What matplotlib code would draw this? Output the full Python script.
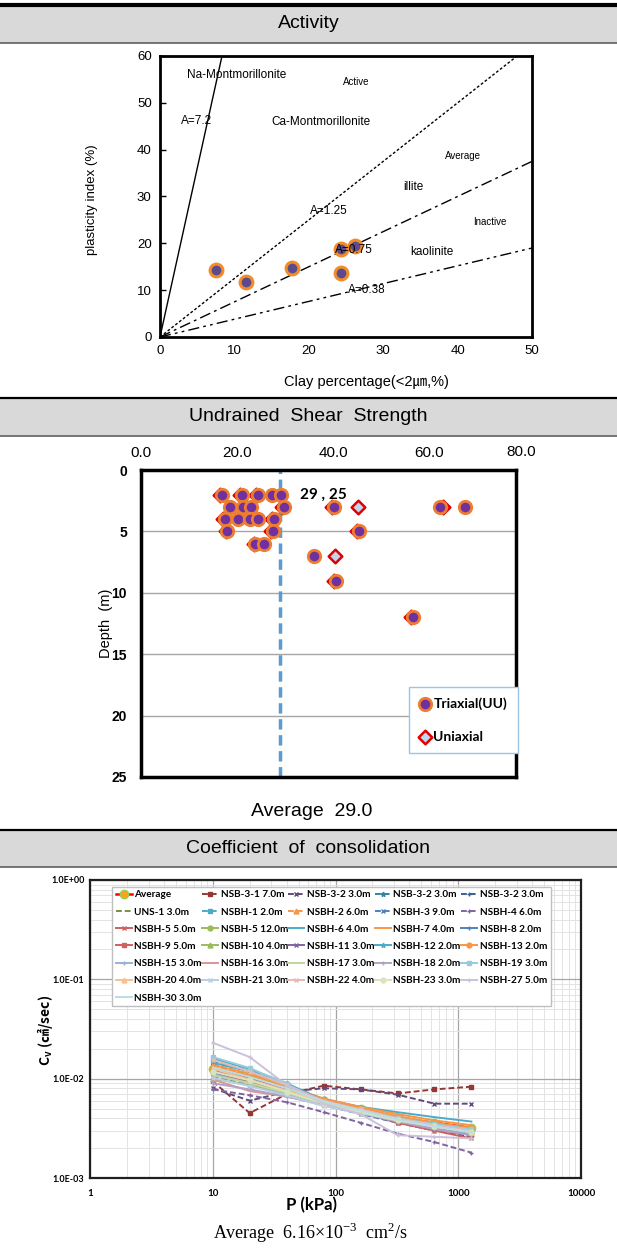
import numpy as np
import matplotlib.pyplot as plt
from matplotlib.lines import Line2D
from matplotlib.patches import Rectangle
from matplotlib.ticker import FuncFormatter, NullFormatter
from matplotlib import font_manager

W, H = 617, 1251

# ---- activity chart data ----
clay_pct = [7.5, 11.6, 17.8, 24.3, 26.2, 24.3]
plast_idx = [14.3, 11.8, 14.7, 18.7, 19.4, 13.6]
act_values = [7.2, 1.25, 0.75, 0.38]
act_labels = ['A=7.2', 'A=1.25', 'A=0.75', 'A=0.38']

# ---- undrained shear strength data ----
tri_su = [16.9, 21.0, 24.4, 27.2, 29.1,
          18.5, 21.3, 22.8, 29.8, 40.1, 62.1, 67.3,
          17.5, 20.1, 22.6, 24.4, 27.6,
          17.9, 27.4, 45.4,
          23.8, 25.6,
          36.0, 40.6, 56.6]
tri_depth = [2, 2, 2, 2, 2,
             3, 3, 3, 3, 3, 3, 3,
             4, 4, 4, 4, 4,
             5, 5, 5,
             6, 6,
             7, 9, 12]
uni_su = [16.5, 20.6, 24.0, 29.4, 39.7, 45.1, 62.8, 17.1, 27.2,
          17.6, 27.0, 45.0, 23.4, 40.4, 40.2, 56.2]
uni_depth = [2, 2, 2, 3, 3, 3, 3, 4, 4, 5, 5, 5, 6, 7, 9, 12]
su_average = 29.0
su_count = 25

# ---- coefficient of consolidation data ----
pressure_kpa = [10, 20, 40, 80, 160, 320, 640, 1280]
cv_labels = ['Average', 'NSB-3-1 7.0m', 'NSB-3-2 3.0m', 'NSB-3-2 3.0m', 'NSB-3-2 3.0m',
             'UNS-1 3.0m', 'NSBH-1 2.0m', 'NSBH-2 6.0m', 'NSBH-3 9.0m', 'NSBH-4 6.0m',
             'NSBH-5 5.0m', 'NSBH-5 12.0m', 'NSBH-6 4.0m', 'NSBH-7 4.0m', 'NSBH-8 2.0m',
             'NSBH-9 5.0m', 'NSBH-10 4.0m', 'NSBH-11 3.0m', 'NSBH-12 2.0m', 'NSBH-13 2.0m',
             'NSBH-15 3.0m', 'NSBH-16 3.0m', 'NSBH-17 3.0m', 'NSBH-18 2.0m', 'NSBH-19 3.0m',
             'NSBH-20 4.0m', 'NSBH-21 3.0m', 'NSBH-22 4.0m', 'NSBH-23 3.0m', 'NSBH-27 5.0m',
             'NSBH-30 3.0m']
cv_values = [
    [0.0126, 0.0102, 0.0078, 0.0058, 0.0049, 0.0040, 0.0036, 0.0032],
    [0.0094, 0.0045, 0.0070, 0.0085, 0.0078, 0.0071, 0.0078, 0.0083],
    [0.0080, 0.0060, 0.0074, 0.0080, 0.0078, 0.0069, 0.0056, 0.0056],
    [0.0140, 0.0110, 0.0085, 0.0060, 0.0047, 0.0038, 0.0032, 0.0028],
    [0.0118, 0.0095, 0.0072, 0.0055, 0.0045, 0.0036, 0.0030, 0.0026],
    [0.0110, 0.0092, 0.0075, 0.0058, 0.0048, 0.0040, 0.0034, 0.0029],
    [0.0150, 0.0120, 0.0088, 0.0062, 0.0050, 0.0041, 0.0035, 0.0031],
    [0.0135, 0.0108, 0.0080, 0.0060, 0.0048, 0.0039, 0.0033, 0.0028],
    [0.0105, 0.0088, 0.0070, 0.0054, 0.0044, 0.0036, 0.0031, 0.0027],
    [0.0078, 0.0068, 0.0058, 0.0046, 0.0036, 0.0028, 0.0023, 0.0018],
    [0.0125, 0.0100, 0.0076, 0.0057, 0.0046, 0.0036, 0.0030, 0.0025],
    [0.0128, 0.0108, 0.0082, 0.0063, 0.0051, 0.0041, 0.0034, 0.0029],
    [0.0145, 0.0118, 0.0085, 0.0062, 0.0052, 0.0046, 0.0041, 0.0037],
    [0.0138, 0.0112, 0.0084, 0.0063, 0.0052, 0.0044, 0.0038, 0.0034],
    [0.0120, 0.0098, 0.0074, 0.0056, 0.0046, 0.0038, 0.0033, 0.0030],
    [0.0115, 0.0094, 0.0072, 0.0055, 0.0045, 0.0037, 0.0031, 0.0027],
    [0.0100, 0.0086, 0.0070, 0.0056, 0.0047, 0.0039, 0.0034, 0.0030],
    [0.0122, 0.0100, 0.0078, 0.0058, 0.0047, 0.0038, 0.0032, 0.0028],
    [0.0160, 0.0125, 0.0090, 0.0060, 0.0048, 0.0040, 0.0035, 0.0031],
    [0.0132, 0.0106, 0.0080, 0.0061, 0.0050, 0.0042, 0.0036, 0.0032],
    [0.0112, 0.0090, 0.0071, 0.0055, 0.0045, 0.0037, 0.0032, 0.0028],
    [0.0098, 0.0075, 0.0066, 0.0056, 0.0047, 0.0039, 0.0034, 0.0030],
    [0.0108, 0.0090, 0.0072, 0.0055, 0.0046, 0.0038, 0.0033, 0.0029],
    [0.0090, 0.0078, 0.0066, 0.0054, 0.0045, 0.0037, 0.0031, 0.0027],
    [0.0165, 0.0128, 0.0088, 0.0058, 0.0049, 0.0040, 0.0035, 0.0031],
    [0.0126, 0.0098, 0.0076, 0.0058, 0.0048, 0.0039, 0.0033, 0.0029],
    [0.0102, 0.0084, 0.0068, 0.0053, 0.0045, 0.0038, 0.0033, 0.0029],
    [0.0155, 0.0118, 0.0086, 0.0060, 0.0049, 0.0040, 0.0034, 0.0030],
    [0.0118, 0.0096, 0.0074, 0.0056, 0.0046, 0.0038, 0.0033, 0.0029],
    [0.0230, 0.0165, 0.0086, 0.0056, 0.0044, 0.0027, 0.0026, 0.0025],
    [0.0130, 0.0104, 0.0080, 0.0059, 0.0048, 0.0039, 0.0033, 0.0029],
]
cv_mean = 6.16

# colour, dashed?, marker for each Cv series
cv_styles = [
    ('#ff0000', False, 'o'), ('#953735', True, 's'), ('#604a7b', True, 'x'),
    ('#31859c', True, '*'), ('#376092', True, '+'), ('#77933c', True, None),
    ('#4bacc6', True, 's'), ('#f79646', True, '^'), ('#4f81bd', True, 'x'),
    ('#8064a2', True, '+'), ('#d0605e', False, 'x'), ('#9bbb59', False, 'o'),
    ('#4bacc6', False, None), ('#f79646', False, None), ('#4f81bd', False, '+'),
    ('#d0605e', False, 's'), ('#9bbb59', False, '^'), ('#8064a2', False, 'x'),
    ('#4bacc6', False, '*'), ('#f79646', False, 'o'), ('#95b3d7', False, '+'),
    ('#d99694', False, None), ('#c3d69b', False, None), ('#b3a2c7', False, '+'),
    ('#93cddd', False, 's'), ('#fac090', False, '^'), ('#b9cde5', False, 'x'),
    ('#e6b9b8', False, 'x'), ('#d7e4bd', False, 'o'), ('#ccc1da', False, '+'),
    ('#b7dee8', False, None),
]

installed = {f.name for f in font_manager.fontManager.ttflist}
narrow = 'Liberation Sans Narrow' if 'Liberation Sans Narrow' in installed else 'Lato'

fig = plt.figure(figsize=(W / 100, H / 100), dpi=100)


def px_axes(left, top, right, bottom):
    return fig.add_axes([left / W, 1 - bottom / H, (right - left) / W, (bottom - top) / H])


def band(top, bottom, title, top_lw=1.6):
    fig.add_artist(Rectangle((0, 1 - bottom / H), 1, (bottom - top) / H,
                             transform=fig.transFigure, fc='#d9d9d9', ec='none', zorder=0))
    fig.add_artist(Line2D([0, 1], [1 - top / H] * 2, color='black', lw=top_lw))
    fig.add_artist(Line2D([0, 1], [1 - bottom / H] * 2, color='#606060', lw=1.2))
    fig.text(0.5, 1 - (top + bottom) / 2 / H, title, ha='center', va='center',
             fontsize=14, family='Liberation Sans')


band(5, 43, 'Activity', top_lw=3)
band(398, 436, 'Undrained  Shear  Strength')
band(830, 867, 'Coefficient  of  consolidation')

# ================= Activity =================
ax1 = px_axes(160, 56, 532, 337)
ax1.set_xlim(0, 50)
ax1.set_ylim(0, 60)
xs = np.array([0, 50.0])
dash_styles = ['-', (0, (2, 1.5)), (0, (8, 3, 2, 3)), (0, (8, 3, 2, 3, 2, 3))]
for a, ls in zip(act_values, dash_styles):
    ax1.plot(xs, a * xs, color='black', lw=1.0, ls=ls, zorder=2)
ax1.scatter(clay_pct, plast_idx, s=85, c='#5b4a8c', edgecolors='#f28c28',
            linewidths=2.2, zorder=4)

txt = dict(family='Liberation Sans', color='black', ha='left', va='center', zorder=5)
ax1.text(3.6, 56, 'Na-Montmorillonite', fontsize=8.5, **txt)
ax1.text(24.6, 54.4, 'Active', fontsize=7, **txt)
ax1.text(2.8, 46.2, act_labels[0], fontsize=8.5, **txt)
ax1.text(15.0, 46.0, 'Ca-Montmorillonite', fontsize=8.5, **txt)
ax1.text(20.1, 27.0, act_labels[1], fontsize=8.5, **txt)
ax1.text(38.3, 38.7, 'Average', fontsize=7, **txt)
ax1.text(32.7, 32.0, 'illite', fontsize=8.5, **txt)
ax1.text(42.1, 24.6, 'Inactive', fontsize=7, **txt)
ax1.text(23.5, 18.6, act_labels[2], fontsize=8.5, **txt)
ax1.text(33.7, 18.2, 'kaolinite', fontsize=8.5, **txt)
ax1.text(25.3, 10.0, act_labels[3], fontsize=8.5, **txt)

ax1.set_xticks(range(0, 51, 10))
ax1.set_yticks(range(0, 61, 10))
ax1.tick_params(axis='x', length=0, pad=6, labelsize=9.5)
ax1.tick_params(axis='y', direction='in', length=4, width=1, pad=6, labelsize=9.5)
for lab in ax1.get_xticklabels() + ax1.get_yticklabels():
    lab.set_family('Liberation Sans')
for sp in ax1.spines.values():
    sp.set_linewidth(2)
fig.text(366 / W, 1 - 382 / H, 'Clay percentage(<2㎛,%)', ha='center', va='center',
         fontsize=10.5, family=['Liberation Sans', 'Noto Sans CJK KR'])
fig.text(92 / W, 1 - 200 / H, 'plasticity index (%)', ha='center', va='center',
         rotation=90, fontsize=9.5, family='Liberation Sans')

# ================= Undrained shear strength =================
ax2 = px_axes(141, 470, 516, 777)
ax2.set_xlim(0, 78)
ax2.set_ylim(25, 0)
ax2.set_yticks(range(0, 26, 5))
ax2.yaxis.grid(True, color='#a6a6a6', lw=1)
ax2.set_axisbelow(True)
ax2.xaxis.tick_top()
ax2.set_xticks([0, 20, 40, 60])
ax2.xaxis.set_major_formatter(FuncFormatter(lambda v, p: f'{v:.1f}'))
ax2.tick_params(axis='x', length=0, pad=7, labelsize=11)
ax2.tick_params(axis='y', length=0, pad=10, labelsize=10)
for lab in ax2.get_xticklabels():
    lab.set_family('Liberation Sans')
for lab in ax2.get_yticklabels():
    lab.set_family('Liberation Sans')
    lab.set_fontweight('bold')
# last top label sits just past the frame edge
fig.text(521 / W, 1 - 452 / H, f'{80:.1f}', ha='center', va='center',
         fontsize=11, family='Liberation Sans')
for sp in ax2.spines.values():
    sp.set_linewidth(2.5)
    sp.set_color('black')

ax2.axvline(su_average, color='#5b9bd5', lw=2.5, ls=(0, (3, 1.6)), zorder=2)
ax2.scatter(uni_su, uni_depth, marker='D', s=48, c='#bdd7ee', edgecolors='#e00000',
            linewidths=1.8, zorder=3, label='Uniaxial')
ax2.scatter(tri_su, tri_depth, marker='o', s=80, c='#7030a0', edgecolors='#ed7d31',
            linewidths=2, zorder=4, label='Triaxial(UU)')
ax2.text(33.0, 2.0, f'{su_average:.0f} , {su_count}', fontsize=11, fontweight='bold',
         family='Lato', va='center', ha='left')
ax2.set_ylabel('Depth  (m)', fontsize=10.5, family='Liberation Sans')
ax2.yaxis.set_label_coords(-0.075, 0.5)

h, l = ax2.get_legend_handles_labels()
leg2 = ax2.legend(h[::-1], l[::-1], loc='upper left', bbox_to_anchor=(0.715, 0.293),
                  borderaxespad=0, frameon=True, fancybox=False, handletextpad=0.2,
                  handlelength=0.8, labelspacing=1.5, borderpad=0.75, framealpha=1,
                  prop=dict(family='Lato', weight='bold', size=10))
leg2.get_frame().set_edgecolor('#9dc3e6')
leg2.get_frame().set_linewidth(1)

fig.text(0.505, 1 - 811 / H, f'Average  {su_average:.1f}', ha='center', va='center',
         fontsize=14, family='Liberation Sans')

# ================= Coefficient of consolidation =================
ax3 = px_axes(90, 880, 581, 1178)
ax3.set_xscale('log')
ax3.set_yscale('log')
ax3.set_xlim(1, 10000)
ax3.set_ylim(1e-3, 1)
ax3.grid(True, which='major', color='#a6a6a6', lw=0.9)
ax3.grid(True, which='minor', color='#e3e3e3', lw=0.7)
ax3.set_axisbelow(True)
ax3.xaxis.set_major_formatter(FuncFormatter(lambda v, p: f'{v:.0f}'))
ax3.yaxis.set_major_formatter(FuncFormatter(lambda v, p: f'{v:.1E}'))
ax3.xaxis.set_minor_formatter(NullFormatter())
ax3.yaxis.set_minor_formatter(NullFormatter())
ax3.tick_params(which='both', length=0)
ax3.tick_params(axis='x', pad=8, labelsize=7)
ax3.tick_params(axis='y', pad=4, labelsize=6.5)
for lab in ax3.get_xticklabels() + ax3.get_yticklabels():
    lab.set_family('Lato')
    lab.set_fontweight('bold')
for sp in ax3.spines.values():
    sp.set_linewidth(1.6)
    sp.set_color('#202020')

lines = []
for i, (lab, vals, (col, dashed, mk)) in enumerate(zip(cv_labels, cv_values, cv_styles)):
    ls = (0, (3, 1.5)) if dashed else '-'
    if i == 0:
        ln, = ax3.plot(pressure_kpa, vals, color=col, lw=1.8, ls=ls, marker='o', ms=6,
                       mfc='#ffa020', mec='#92d050', mew=1, zorder=3, label=lab)
    else:
        ln, = ax3.plot(pressure_kpa, vals, color=col, lw=1.4, ls=ls, marker=mk, ms=3.5,
                       mew=1, zorder=3, label=lab)
    lines.append(ln)

# row-major order in a five-column legend
n = len(lines)
order = [r * 5 + c for c in range(5) for r in range(7) if r * 5 + c < n]
leg3 = ax3.legend([lines[k] for k in order], [cv_labels[k] for k in order], ncol=5,
                  loc='upper left', bbox_to_anchor=(0.045, 0.977), borderaxespad=0,
                  fancybox=False, framealpha=1, handlelength=1.6, handletextpad=0.25,
                  columnspacing=0.05, labelspacing=0.82, borderpad=0.35,
                  prop=dict(family=narrow, weight='bold', size=7.2))
leg3.get_frame().set_edgecolor('#bfbfbf')
leg3.set_zorder(6)

fig.text(311 / W, 1 - 1205 / H, 'P (kPa)', ha='center', va='center', fontsize=12,
         fontweight='bold', family='Lato')
fig.text(45 / W, 1 - 1030 / H, 'C$_\\mathregular{v}$ (㎠/sec)', ha='center', va='center',
         rotation=90, fontsize=10, fontweight='bold', family='Noto Sans CJK KR')

fig.text(311 / W, 1 - 1233 / H,
         f'Average  {cv_mean:.2f}\u00d710$^{{\\mathregular{{-3}}}}$  cm$^{{\\mathregular{{2}}}}$/s',
         ha='center', va='center', fontsize=13, family='Liberation Serif')

fig.savefig('out.png', dpi=100)
